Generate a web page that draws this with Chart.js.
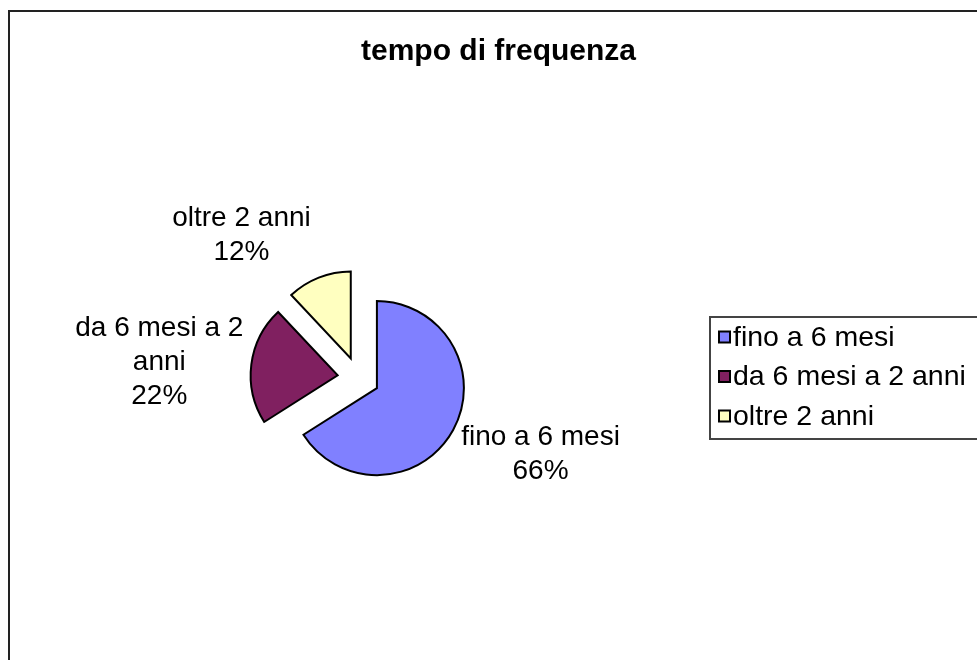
<!DOCTYPE html>
<html>
<head>
<meta charset="utf-8">
<script src="https://cdn.jsdelivr.net/npm/chart.js@4.4.0/dist/chart.umd.min.js"></script>
<style>
  html, body { margin: 0; padding: 0; background: #fff; overflow: hidden; }
  canvas { display: block; }
</style>
</head>
<body>
<canvas id="grafico" width="977" height="660"></canvas>
<script>
// dati
const categorie = ['fino a 6 mesi', 'da 6 mesi a 2 anni', 'oltre 2 anni'];
const valori = [66, 22, 12];
const colori = ['#8080FF', '#802060', '#FFFFC0'];
const titolo = 'tempo di frequenza';

const FONT = "'Liberation Sans', Arial, Helvetica, sans-serif";

function limita(v) { return Math.max(-1, Math.min(1, v)); }

// spezza il testo su più righe come fa Excel
function spezza(ctx, testo, maxW) {
    const parole = testo.split(' ');
    const righe = [];
    let riga = '';
    parole.forEach(p => {
        const prova = riga ? riga + ' ' + p : p;
        if (riga && ctx.measureText(prova).width > maxW) {
            righe.push(riga);
            riga = p;
        } else {
            riga = prova;
        }
    });
    if (riga) righe.push(riga);
    return righe;
}

// cornice esterna del grafico
const cornice = {
    id: 'cornice',
    beforeDraw(chart) {
        const ctx = chart.ctx;
        ctx.save();
        ctx.strokeStyle = '#222';
        ctx.lineWidth = 2;
        ctx.strokeRect(9, 11, chart.width + 20, chart.height + 20);
        ctx.restore();
    }
};

// fette staccate dal centro
const esplodi = {
    id: 'esplodi',
    beforeDatasetDraw(chart, args, opts) {
        const ctx = chart.ctx;
        args.meta.data.forEach(arc => {
            const mid = (arc.startAngle + arc.endAngle) / 2;
            ctx.save();
            ctx.translate(Math.cos(mid) * opts.distanza, Math.sin(mid) * opts.distanza);
            arc.draw(ctx);
            ctx.restore();
        });
        return false;
    }
};

// etichette esterne: categoria + percentuale
const etichette = {
    id: 'etichette',
    afterDatasetsDraw(chart, args, opts) {
        const ctx = chart.ctx;
        const meta = chart.getDatasetMeta(0);
        const tot = valori.reduce((a, b) => a + b, 0);
        ctx.save();
        ctx.font = `28px ${FONT}`;
        ctx.fillStyle = '#000';
        ctx.textAlign = 'center';
        ctx.textBaseline = 'middle';
        meta.data.forEach((arc, i) => {
            const mid = (arc.startAngle + arc.endAngle) / 2;
            const dx = Math.cos(mid), dy = Math.sin(mid);
            const r = opts.distanza + arc.outerRadius;
            const ox = arc.x + dx * r;
            const oy = arc.y + dy * r;
            const righe = spezza(ctx, chart.data.labels[i], opts.larghezza);
            righe.push(Math.round(valori[i] / tot * 100) + '%');
            const w = Math.max(...righe.map(t => ctx.measureText(t).width));
            const h = righe.length * opts.interlinea;
            const cx = ox + limita(dx * 3) * (w / 2 + 8);
            const cy = oy + limita(dy * Math.abs(dy) * 2.5) * (h / 2 + 8);
            righe.forEach((t, k) => {
                ctx.fillText(t, cx, cy - h / 2 + opts.interlinea * (k + 0.5));
            });
        });
        ctx.restore();
    }
};

// legenda a destra con riquadro, come box del layout
function creaLegenda(chart) {
    return {
        position: 'right',
        weight: 0,
        fullSize: false,
        options: {},
        left: 0, top: 0, right: 0, bottom: 0, width: 0, height: 0,
        isHorizontal() { return false; },
        update(maxWidth, maxHeight) {
            this.width = 280;
            this.height = maxHeight;
        },
        draw() {
            const ctx = chart.ctx;
            const cy = (this.top + this.bottom) / 2;
            const fx = this.left + 13;
            const fy = cy - 61;
            ctx.save();
            ctx.strokeStyle = '#444';
            ctx.lineWidth = 2;
            ctx.strokeRect(fx, fy, this.right - fx + 20, 122);
            ctx.font = `28.5px ${FONT}`;
            ctx.textAlign = 'left';
            ctx.textBaseline = 'middle';
            chart.data.labels.forEach((lab, i) => {
                const y = cy - 1.5 + (i - 1) * 39.5;
                ctx.fillStyle = chart.data.datasets[0].backgroundColor[i];
                ctx.fillRect(fx + 9, y - 5.5, 11, 11);
                ctx.strokeStyle = '#000';
                ctx.lineWidth = 2;
                ctx.strokeRect(fx + 9, y - 5.5, 11, 11);
                ctx.fillStyle = '#000';
                ctx.fillText(lab, fx + 23, y + 1);
            });
            ctx.restore();
        }
    };
}

const legenda = {
    id: 'legenda',
    beforeInit(chart) {
        chart.$legenda = creaLegenda(chart);
        Chart.layouts.addBox(chart, chart.$legenda);
    }
};

new Chart(document.getElementById('grafico'), {
    type: 'pie',
    data: {
        labels: categorie,
        datasets: [{
            data: valori,
            backgroundColor: colori,
            borderColor: '#000',
            borderWidth: 2,
            borderJoinStyle: 'miter',
            hoverOffset: 0
        }]
    },
    options: {
        responsive: false,
        animation: false,
        events: [],
        radius: 87,
        layout: { padding: { left: 20, right: 0, top: 0, bottom: 0 } },
        plugins: {
            legend: { display: false },
            tooltip: { enabled: false },
            title: {
                display: true,
                text: titolo,
                color: '#000',
                font: { family: FONT, size: 30, weight: 'bold' },
                padding: { top: 33.5, bottom: 26.5 }
            },
            esplodi: { distanza: 21 },
            etichette: { distanza: 21, larghezza: 180, interlinea: 34 }
        }
    },
    plugins: [cornice, legenda, esplodi, etichette]
});
</script>
</body>
</html>
